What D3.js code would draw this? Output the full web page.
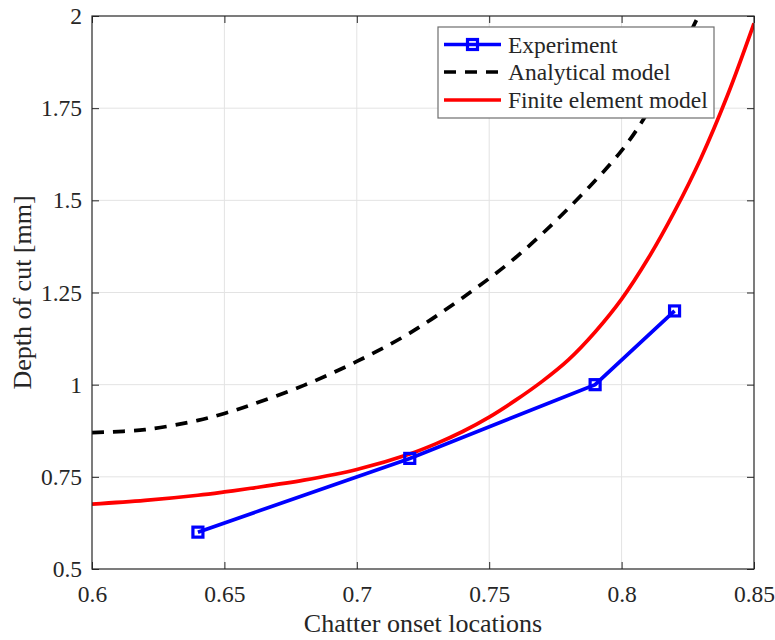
<!DOCTYPE html>
<html>
<head>
<meta charset="utf-8">
<script src="https://cdn.jsdelivr.net/npm/d3@7"></script>
<style>
  html, body { margin: 0; padding: 0; background: #fff; }
  svg { display: block; }
  text { font-family: "Liberation Serif", "DejaVu Serif", serif; fill: #262626; }
</style>
</head>
<body>
<svg id="chart" width="775" height="640"></svg>
<script>
// ---- data ----
const expX = [0.64, 0.72, 0.79, 0.82];
const expY = [0.6, 0.8, 1.0, 1.2];

const anaX = [0.6, 0.62, 0.64, 0.65, 0.66, 0.68, 0.7, 0.72, 0.74, 0.76, 0.78, 0.8, 0.81, 0.82, 0.829];
const anaY = [0.87, 0.878, 0.903, 0.922, 0.945, 0.998, 1.063, 1.14, 1.236, 1.345, 1.479, 1.635, 1.74, 1.87, 2.0];

const feX = [0.6, 0.62, 0.64, 0.65, 0.66, 0.68, 0.7, 0.72, 0.73, 0.74, 0.75, 0.76, 0.77, 0.78, 0.79, 0.8, 0.81, 0.82, 0.83, 0.84, 0.85];
const feY = [0.676, 0.686, 0.70, 0.709, 0.719, 0.741, 0.77, 0.812, 0.84, 0.873, 0.912, 0.958, 1.009, 1.068, 1.143, 1.232, 1.342, 1.47, 1.615, 1.785, 1.98];

const xTicks = [0.6, 0.65, 0.7, 0.75, 0.8, 0.85];
const xTickLabels = ["0.6", "0.65", "0.7", "0.75", "0.8", "0.85"];
const yTicks = [0.5, 0.75, 1, 1.25, 1.5, 1.75, 2];
const yTickLabels = ["0.5", "0.75", "1", "1.25", "1.5", "1.75", "2"];

const legendLabels = ["Experiment", "Analytical model", "Finite element model"];
const xLabel = "Chatter onset locations";
const yLabel = "Depth of cut [mm]";

// ---- layout ----
const margin = { left: 92, top: 16, right: 775 - 754, bottom: 640 - 569 };
const W = 775, H = 640;
const pw = W - margin.left - margin.right;
const ph = H - margin.top - margin.bottom;

const svg = d3.select("#chart");
const g = svg.append("g").attr("transform", `translate(${margin.left},${margin.top})`);

const x = d3.scaleLinear().domain([0.6, 0.85]).range([0, pw]);
const y = d3.scaleLinear().domain([0.5, 2]).range([ph, 0]);

// grid
g.append("g").selectAll("line").data(xTicks.slice(1, -1)).join("line")
  .attr("x1", d => x(d)).attr("x2", d => x(d)).attr("y1", 0).attr("y2", ph)
  .attr("stroke", "#e3e3e3").attr("stroke-width", 1);
g.append("g").selectAll("line").data(yTicks.slice(1, -1)).join("line")
  .attr("y1", d => y(d)).attr("y2", d => y(d)).attr("x1", 0).attr("x2", pw)
  .attr("stroke", "#e3e3e3").attr("stroke-width", 1);

// clip
svg.append("defs").append("clipPath").attr("id", "clip")
  .append("rect").attr("x", 0).attr("y", 0).attr("width", pw).attr("height", ph);

const plot = g.append("g").attr("clip-path", "url(#clip)");

const line = d3.line().x(d => x(d[0])).y(d => y(d[1]));
const smooth = d3.line().x(d => x(d[0])).y(d => y(d[1])).curve(d3.curveCatmullRom.alpha(0.5));

plot.append("path").datum(anaX.map((v, i) => [v, anaY[i]]))
  .attr("d", smooth).attr("fill", "none").attr("stroke", "#000")
  .attr("stroke-width", 3.7).attr("stroke-dasharray", "12,9");

plot.append("path").datum(feX.map((v, i) => [v, feY[i]]))
  .attr("d", smooth).attr("fill", "none").attr("stroke", "#ff0000")
  .attr("stroke-width", 3.7);

const expData = expX.map((v, i) => [v, expY[i]]);
plot.append("path").datum(expData)
  .attr("d", line).attr("fill", "none").attr("stroke", "#0000ff")
  .attr("stroke-width", 3.7);
plot.selectAll("rect.m").data(expData).join("rect").attr("class", "m")
  .attr("x", d => x(d[0]) - 5).attr("y", d => y(d[1]) - 5)
  .attr("width", 10).attr("height", 10)
  .attr("fill", "none").attr("stroke", "#0000ff").attr("stroke-width", 3.2);

// axes (MATLAB-style box with inward ticks)
const axisColor = "#262626";
const tickLen = 7;
const fontSize = 23.5;
const labelSize = 26;

const xAxis = d3.axisBottom(x).tickValues(xTicks).tickSizeInner(-tickLen).tickSizeOuter(0)
  .tickFormat((d, i) => xTickLabels[i]).tickPadding(16);
const gx = g.append("g").attr("transform", `translate(0,${ph})`).call(xAxis);
const yAxis = d3.axisLeft(y).tickValues(yTicks).tickSizeInner(-tickLen).tickSizeOuter(0)
  .tickFormat((d, i) => yTickLabels[i]).tickPadding(10);
const gy = g.append("g").call(yAxis);
const xTop = d3.axisTop(x).tickValues(xTicks).tickSizeInner(-tickLen).tickSizeOuter(0).tickFormat("");
g.append("g").call(xTop);
const yRight = d3.axisRight(y).tickValues(yTicks).tickSizeInner(-tickLen).tickSizeOuter(0).tickFormat("");
g.append("g").attr("transform", `translate(${pw},0)`).call(yRight);

g.selectAll(".domain").remove();
g.selectAll(".tick line").attr("stroke", axisColor).attr("stroke-width", 1);
g.selectAll(".tick text").attr("font-size", fontSize).attr("fill", axisColor)
  .attr("font-family", "'Liberation Serif', serif");
gx.selectAll(".tick text").attr("dy", "0.71em");
gy.selectAll(".tick text").attr("dy", "0.32em");

g.append("rect").attr("x", 0).attr("y", 0).attr("width", pw).attr("height", ph)
  .attr("fill", "none").attr("stroke", axisColor).attr("stroke-width", 1.2);

// axis labels
svg.append("text").attr("x", margin.left + pw / 2).attr("y", 632)
  .attr("text-anchor", "middle").attr("font-size", labelSize).text(xLabel);
svg.append("text").attr("transform", `translate(31,${margin.top + ph / 2}) rotate(-90)`)
  .attr("text-anchor", "middle").attr("font-size", labelSize).text(yLabel);

// legend
const lg = svg.append("g").attr("transform", "translate(438,27)");
lg.append("rect").attr("x", 0).attr("y", 0).attr("width", 276).attr("height", 91)
  .attr("fill", "#fff").attr("stroke", "#6e6e6e").attr("stroke-width", 1.2);
const rowY = [17.5, 45, 73];
const styles = [
  { color: "#0000ff", dash: null, marker: true },
  { color: "#000", dash: "12,9", marker: false },
  { color: "#ff0000", dash: null, marker: false }
];
legendLabels.forEach((lab, i) => {
  const s = styles[i];
  lg.append("line").attr("x1", 6).attr("x2", 63).attr("y1", rowY[i]).attr("y2", rowY[i])
    .attr("stroke", s.color).attr("stroke-width", 3.7)
    .attr("stroke-dasharray", s.dash);
  if (s.marker) {
    lg.append("rect").attr("x", 34.5 - 5).attr("y", rowY[i] - 5).attr("width", 10).attr("height", 10)
      .attr("fill", "none").attr("stroke", s.color).attr("stroke-width", 3.2);
  }
  lg.append("text").attr("x", 70).attr("y", rowY[i]).attr("dy", "0.35em")
    .attr("font-size", fontSize).text(lab);
});
</script>
</body>
</html>
